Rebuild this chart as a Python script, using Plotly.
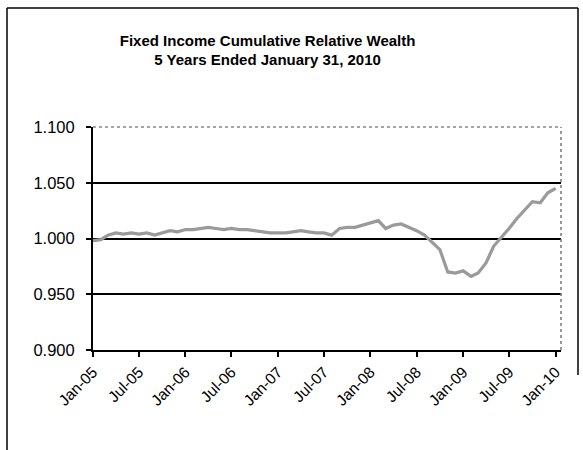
import pandas as pd
import plotly.graph_objects as go

# Monthly cumulative relative wealth, Jan 2005 - Jan 2010
months = pd.date_range("2005-01-01", "2010-01-01", freq="MS")
wealth = [
    0.998, 0.999, 1.003, 1.005, 1.004, 1.005, 1.004, 1.005, 1.003, 1.005,
    1.007, 1.006, 1.008, 1.008, 1.009, 1.010, 1.009, 1.008, 1.009, 1.008,
    1.008, 1.007, 1.006, 1.005, 1.005, 1.005, 1.006, 1.007, 1.006, 1.005,
    1.005, 1.003, 1.009, 1.010, 1.010, 1.012, 1.014, 1.016, 1.009, 1.012,
    1.013, 1.010, 1.007, 1.003, 0.996, 0.990, 0.970, 0.969, 0.971, 0.966,
    0.969, 0.978, 0.993, 1.001, 1.009, 1.018, 1.026, 1.033, 1.032, 1.041,
    1.045,
]

title_lines = ["Fixed Income Cumulative Relative Wealth", "5 Years Ended January 31, 2010"]
y_ticks = [0.900, 0.950, 1.000, 1.050, 1.100]

PLOT_W, PLOT_H = 468, 223  # plot-area size in px, for the frame shapes

fig = go.Figure()
fig.add_trace(go.Scatter(
    x=months, y=wealth, mode="lines",
    line=dict(color="#9a9a9a", width=3.2),
    showlegend=False, hoverinfo="skip",
))

fig.update_layout(
    width=583, height=450,
    margin=dict(l=93, r=22, t=127, b=100),
    paper_bgcolor="white", plot_bgcolor="white",
    font=dict(family="Liberation Sans, Arial, sans-serif", color="black", size=15),
    title=dict(
        text="<b>" + "<br>".join(title_lines) + "</b>",
        x=0.459, xanchor="center", y=0.898, yanchor="middle",
        font=dict(size=15, color="black"),
    ),
    xaxis=dict(
        type="date",
        range=["2005-01-01", "2010-01-22"],
        tick0="2005-01-01", dtick="M6", tickformat="%b-%y",
        tickangle=-45,
        showgrid=False, zeroline=False,
        showline=True, linecolor="black", linewidth=2,
        ticks="outside", ticklen=5, tickwidth=2, tickcolor="black",
        tickfont=dict(size=15.5),
    ),
    yaxis=dict(
        range=[0.9, 1.1],
        tickvals=y_ticks, tickformat=".3f",
        showgrid=True, gridcolor="black", gridwidth=2,
        zeroline=False,
        showline=True, linecolor="black", linewidth=2,
        ticks="outside", ticklen=5, tickwidth=2, tickcolor="black",
        tickfont=dict(size=16.5), ticklabelstandoff=8,
    ),
    shapes=[
        # dotted plot-area border on top and right
        dict(type="line", xref="paper", yref="paper", x0=0, x1=1, y0=1, y1=1,
             line=dict(color="white", width=3), layer="above"),
        dict(type="line", xref="paper", yref="paper", x0=0, x1=1, y0=1, y1=1,
             line=dict(color="#888888", width=1.5, dash="dot"), layer="above"),
        dict(type="line", xref="paper", yref="paper", x0=1, x1=1, y0=0, y1=1,
             line=dict(color="#777777", width=1.5, dash="dot"), layer="above"),
        # outer chart frame
        dict(type="line", xref="paper", yref="paper",
             x0=-86 / PLOT_W, x1=-86 / PLOT_W, y0=-100 / PLOT_H, y1=1 + 119 / PLOT_H,
             line=dict(color="black", width=1.5)),
        dict(type="line", xref="paper", yref="paper",
             x0=-86 / PLOT_W, x1=485 / PLOT_W, y0=1 + 119 / PLOT_H, y1=1 + 119 / PLOT_H,
             line=dict(color="black", width=1.5)),
        dict(type="line", xref="paper", yref="paper",
             x0=485 / PLOT_W, x1=485 / PLOT_W, y0=-25 / PLOT_H, y1=1 + 119 / PLOT_H,
             line=dict(color="black", width=1.5)),
    ],
)

fig.write_html("out.html")
